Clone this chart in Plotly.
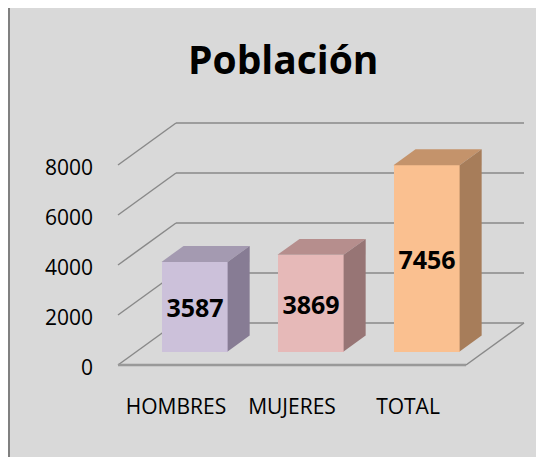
import plotly.graph_objects as go

# ---- data ----
categories = ["HOMBRES", "MUJERES", "TOTAL"]
values = [3587, 3869, 7456]
ytick_vals = [0, 2000, 4000, 6000, 8000]
ytick_text = ["0", "2000", "4000", "6000", "8000"]
title_text = "Población"

# ---- styling ----
front_colors = ["#ccc1da", "#e6b9b8", "#fac090"]
top_colors = ["#a49ab1", "#b68e8d", "#c4936b"]
side_colors = ["#877c94", "#977575", "#a77d5a"]
FONT = "Open Sans"

# 3D geometry (in axis units)
DEPTH_X = 0.5      # floor depth, x direction (category units)
DEPTH_Y = 1680     # floor depth, y direction (value units)
BAR_OFF = 0.32     # bar front position as fraction of floor depth
BAR_DEPTH = 0.38   # bar depth as fraction of floor depth
BAR_W = 0.57

# page has an 8px body margin; figure is sized so it ends at the window edge
OFF = 8
W, H = 544 - OFF, 457 - OFF
ML, MR, MT, MB = 96 - OFF, 14, 100 - OFF, 65
PW, PH = W - ML - MR, H - MT - MB


def px(x):
    """page x pixel -> paper coordinate"""
    return (x - OFF - ML) / PW


def py(y):
    """page y pixel -> paper coordinate"""
    return (H - MB - (y - OFF)) / PH


idx = list(range(len(categories)))
bar_x = [i + BAR_OFF * DEPTH_X for i in idx]
bar_base = BAR_OFF * DEPTH_Y
dx = BAR_DEPTH * DEPTH_X
dy = BAR_DEPTH * DEPTH_Y

fig = go.Figure()

fig.add_trace(go.Bar(
    x=bar_x, y=values, base=[bar_base] * len(values), width=BAR_W,
    marker=dict(color=front_colors, line=dict(width=0)),
    text=[str(v) for v in values], textposition="inside",
    insidetextanchor="middle", textangle=0,
    textfont=dict(family=FONT, size=25, color="black", weight="bold"),
    hoverinfo="skip", showlegend=False,
))

for i, v in enumerate(values):
    xl = bar_x[i] - BAR_W / 2
    xr = bar_x[i] + BAR_W / 2
    top = bar_base + v
    # top face
    fig.add_trace(go.Scatter(
        x=[xl, xr, xr + dx, xl + dx, xl],
        y=[top, top, top + dy, top + dy, top],
        fill="toself", fillcolor=top_colors[i], mode="lines",
        line=dict(width=0, color=top_colors[i]), hoverinfo="skip", showlegend=False,
    ))
    # side face
    fig.add_trace(go.Scatter(
        x=[xr, xr + dx, xr + dx, xr, xr],
        y=[bar_base, bar_base + dy, top + dy, top, bar_base],
        fill="toself", fillcolor=side_colors[i], mode="lines",
        line=dict(width=0, color=side_colors[i]), hoverinfo="skip", showlegend=False,
    ))

shapes = []
# outer chart frame
shapes.append(dict(type="rect", xref="paper", yref="paper",
                   x0=px(9), x1=px(560), y0=py(470), y1=py(7),
                   fillcolor="#d9d9d9", line=dict(color="#808080", width=2),
                   layer="below"))

x_left = -0.5
x_right = len(categories) - 0.5
grid_col = "#898989"
for v in ytick_vals:
    # back wall line
    shapes.append(dict(type="line", xref="x", yref="y",
                       x0=x_left + DEPTH_X, x1=x_right + DEPTH_X,
                       y0=v + DEPTH_Y, y1=v + DEPTH_Y,
                       line=dict(color=grid_col, width=1.5), layer="below"))
    # side wall diagonal
    shapes.append(dict(type="line", xref="x", yref="y",
                       x0=x_left, x1=x_left + DEPTH_X,
                       y0=v, y1=v + DEPTH_Y,
                       line=dict(color=grid_col, width=1.5), layer="below"))
# floor front and right edges
shapes.append(dict(type="line", xref="x", yref="y",
                   x0=x_left, x1=x_right, y0=0, y1=0,
                   line=dict(color="#999999", width=2.5), layer="below"))
shapes.append(dict(type="line", xref="x", yref="y",
                   x0=x_right, x1=x_right + DEPTH_X, y0=0, y1=DEPTH_Y,
                   line=dict(color=grid_col, width=1.5), layer="below"))

fig.update_layout(
    width=W, height=H,
    margin=dict(l=ML, r=MR, t=MT, b=MB, pad=0),
    paper_bgcolor="white", plot_bgcolor="rgba(0,0,0,0)",
    shapes=shapes,
    showlegend=False,
    bargap=0,
    uniformtext=dict(minsize=25, mode="show"),
    annotations=[dict(text=title_text, xref="paper", yref="paper",
                      x=px(283), y=py(58), xanchor="center", yanchor="middle",
                      showarrow=False,
                      font=dict(family=FONT, size=39, color="black", weight="bold"))],
    xaxis=dict(range=[(ML + OFF - 176) / 116, (ML + OFF + PW - 176) / 116],
               tickvals=idx, ticktext=categories, showgrid=False,
               zeroline=False, showline=False, ticks="",
               tickfont=dict(family=FONT, size=21, color="black")),
    yaxis=dict(range=[-(MT + OFF + PH - 365) / 0.025, (365 - MT - OFF) / 0.025],
               tickvals=ytick_vals, ticktext=ytick_text, showgrid=False,
               zeroline=False, showline=False, ticks="", ticklabelstandoff=2,
               ticklabelshift=3,
               tickfont=dict(family=FONT, size=21, color="black")),
)

fig.write_html("out.html")
